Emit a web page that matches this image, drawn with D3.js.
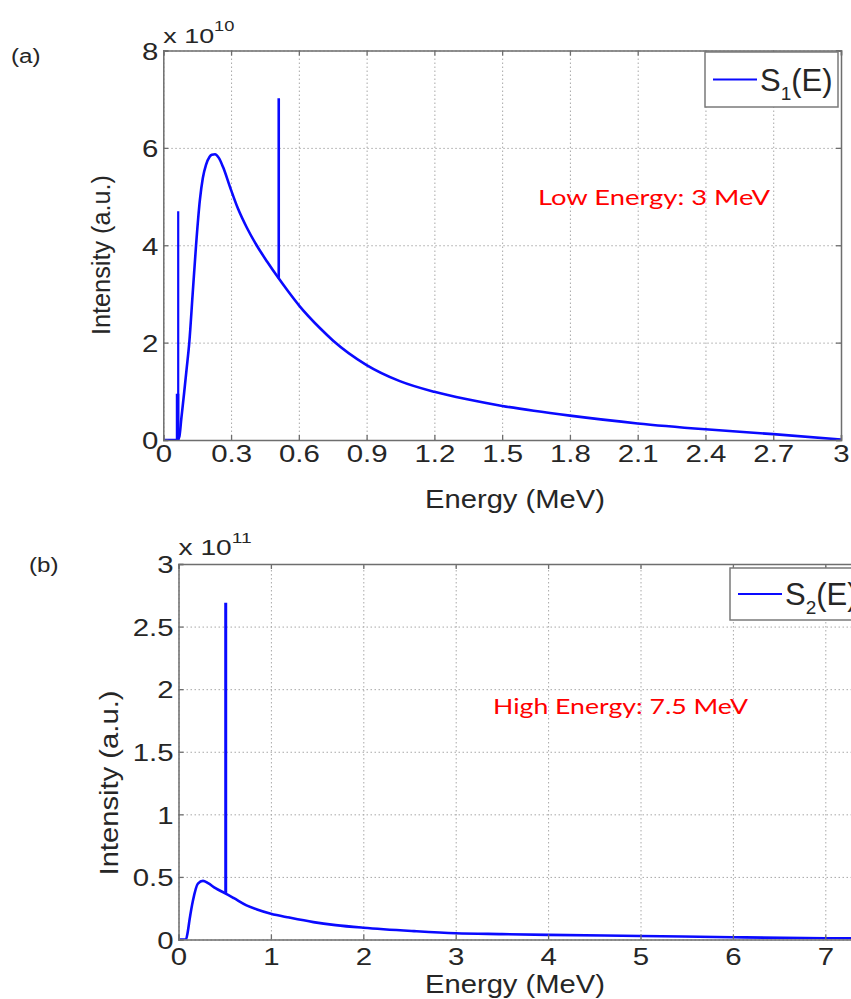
<!DOCTYPE html>
<html>
<head>
<meta charset="utf-8">
<script src="https://cdnjs.cloudflare.com/ajax/libs/d3/7.8.5/d3.min.js"></script>
<style>
  body { margin: 0; background: #fff; }
  svg text { font-family: "Liberation Sans", Arial, sans-serif; fill: #262626; }
</style>
</head>
<body>
<svg id="chart" width="851" height="999"></svg>
<script>
// ---- data ----
// (a) low energy spectrum, intensity in units of 1e10
const energyLow = [0, 0.05, 0.062, 0.071, 0.08, 0.092, 0.103, 0.115, 0.13, 0.145, 0.162, 0.175, 0.189, 0.205, 0.215,
  0.229, 0.245, 0.265, 0.295, 0.33, 0.37, 0.413, 0.46, 0.509, 0.55, 0.605, 0.693, 0.752, 0.9, 1.047, 1.2, 1.34,
  1.5, 1.64, 1.8, 2.1, 2.4, 2.7, 3.0];
const intensityLow = [0, 0, 0, 0.07, 0.45, 0.96, 1.45, 2.0, 3.0, 4.0, 4.93, 5.38, 5.65, 5.82, 5.86,
  5.87, 5.8, 5.6, 5.2, 4.76, 4.36, 4.0, 3.66, 3.33, 3.07, 2.74, 2.3, 2.04, 1.54, 1.21, 0.99, 0.84,
  0.7, 0.6, 0.5, 0.34, 0.22, 0.12, 0.01];
const spikeLowE = [0.063, 0.066, 0.511];
const spikeLowBase = [0, 0, 3.32];
const spikeLowTop = [0.95, 4.7, 7.02];
const spikeLowWidth = [3.5, 2.2, 2.6];

// (b) high energy spectrum, intensity in units of 1e11
const energyHigh = [0, 0.08, 0.1, 0.12, 0.156, 0.21, 0.265, 0.32, 0.4, 0.5, 0.6, 0.736, 0.85, 1.0, 1.2, 1.46,
  1.7, 2.0, 2.55, 3.0, 3.5, 4.0, 5.0, 6.0, 7.0, 7.5];
const intensityHigh = [0, 0, 0.06, 0.16, 0.31, 0.447, 0.468, 0.45, 0.41, 0.371, 0.33, 0.273, 0.24, 0.206, 0.175, 0.139,
  0.115, 0.094, 0.067, 0.05, 0.043, 0.037, 0.028, 0.018, 0.01, 0.008];
const spikeHighE = [0.511];
const spikeHighBase = [0.371];
const spikeHighTop = [2.69];
const spikeHighWidth = [3];

const xTicksLow = [0, 0.3, 0.6, 0.9, 1.2, 1.5, 1.8, 2.1, 2.4, 2.7, 3];
const yTicksLow = [0, 2, 4, 6, 8];
const xTicksHigh = [0, 1, 2, 3, 4, 5, 6, 7];
const yTicksHigh = [0, 0.5, 1, 1.5, 2, 2.5, 3];

const svg = d3.select("#chart");
svg.append("rect").attr("width", 851).attr("height", 999).attr("fill", "#fff");

const blue = "#0a0aff";
const axisColor = "#6e6e6e";

function drawPanel(p) {
  const x = d3.scaleLinear().domain(p.xDomain).range([p.left, p.right]);
  const y = d3.scaleLinear().domain(p.yDomain).range([p.bottom, p.top]);
  const g = svg.append("g");
  const w = p.right - p.left, h = p.bottom - p.top;

  // dotted grid
  const gx = g.append("g").attr("transform", `translate(0,${p.bottom})`)
    .call(d3.axisBottom(x).tickValues(p.xTicks).tickSize(-h).tickFormat(""));
  const gy = g.append("g").attr("transform", `translate(${p.left},0)`)
    .call(d3.axisLeft(y).tickValues(p.yTicks).tickSize(-w).tickFormat(""));
  [gx, gy].forEach(a => {
    a.select(".domain").remove();
    a.selectAll("line").attr("stroke", "#a8a8a8").attr("stroke-width", 1).attr("stroke-dasharray", "1.5,2.5");
  });

  // clip for the curve (bottom panel runs past the page edge)
  const clipId = "clip" + p.id;
  svg.append("clipPath").attr("id", clipId).append("rect")
    .attr("x", p.left).attr("y", p.top - 1).attr("width", w).attr("height", h + 1);

  const line = d3.line().x(d => x(d[0])).y(d => y(d[1])).curve(d3.curveMonotoneX);
  const pts = p.energy.map((e, i) => [e, p.intensity[i]]);
  const plot = g.append("g").attr("clip-path", `url(#${clipId})`);
  plot.append("path").datum(pts).attr("d", line)
    .attr("fill", "none").attr("stroke", blue).attr("stroke-width", 2.6).attr("stroke-linejoin", "round");
  plot.selectAll("line.spike").data(p.spikeE).join("line").attr("class", "spike")
    .attr("x1", d => x(d)).attr("x2", d => x(d))
    .attr("y1", (d, i) => y(p.spikeBase[i])).attr("y2", (d, i) => y(p.spikeTop[i]))
    .attr("stroke", blue).attr("stroke-width", (d, i) => p.spikeWidth[i]);

  // box axes with inward ticks
  const ax = [
    [d3.axisBottom(x).tickValues(p.xTicks).tickSize(-5).tickFormat(d3.format("")), `translate(0,${p.bottom})`, true],
    [d3.axisTop(x).tickValues(p.xTicks).tickSize(-5).tickFormat(""), `translate(0,${p.top})`, false],
    [d3.axisLeft(y).tickValues(p.yTicks).tickSize(-5).tickFormat(d3.format("")), `translate(${p.left},0)`, true],
    [d3.axisRight(y).tickValues(p.yTicks).tickSize(-5).tickFormat(""), `translate(${p.right},0)`, false]
  ];
  ax.forEach(([axis, tr, labels], k) => {
    const a = g.append("g").attr("transform", tr).call(axis);
    a.select(".domain").attr("stroke", axisColor).attr("stroke-width", 1.5);
    a.selectAll(".tick line").attr("stroke", axisColor).attr("stroke-width", 1.3);
    if (!labels) return;
    a.selectAll("text").attr("font-size", p.tickFont).attr("fill", "#262626")
      .attr("font-family", "Liberation Sans, Arial, sans-serif");
    if (k === 0) {
      a.selectAll("text").attr("y", null).attr("dy", null)
        .attr("transform", `translate(0,${p.xLabelOffset}) scale(${p.stretch},1)`);
    } else {
      a.selectAll("text").attr("x", null).attr("dy", "0.36em")
        .attr("transform", `translate(-5,0) scale(${p.stretch},1)`);
    }
  });

  // axis titles
  g.append("text").attr("x", p.xTitle[0]).attr("y", p.xTitle[1]).attr("text-anchor", "middle")
    .attr("font-size", p.titleFont).attr("textLength", p.xTitleLen).attr("lengthAdjust", "spacingAndGlyphs")
    .text("Energy (MeV)");
  g.append("text").attr("transform", `translate(${p.yTitle[0]},${p.yTitle[1]}) rotate(-90)`)
    .attr("text-anchor", "middle").attr("font-size", p.titleFont)
    .attr("textLength", p.yTitleLen).attr("lengthAdjust", "spacingAndGlyphs")
    .text("Intensity (a.u.)");

  // exponent
  const ex = g.append("text").attr("transform", `translate(${p.left},${p.expY}) scale(1.28,1)`)
    .attr("font-size", p.expFont);
  ex.append("tspan").text("x 10");
  ex.append("tspan").attr("font-size", p.expFont * 0.68).attr("dy", -p.expFont * 0.55).text(p.exponent);

  // panel letter
  g.append("text").attr("transform", `translate(${p.letterPos[0]},${p.letterPos[1]}) scale(1.15,1)`)
    .attr("font-size", 21).text(p.letter);

  // red annotation
  g.append("text").attr("x", p.note[0]).attr("y", p.note[1]).attr("font-size", 21)
    .style("font-family", "Lato, sans-serif").style("fill", "#ff0000")
    .attr("textLength", p.noteLen).attr("lengthAdjust", "spacingAndGlyphs").text(p.noteText);

  // legend
  const L = p.legend;
  g.append("rect").attr("x", L.x).attr("y", L.y).attr("width", L.w).attr("height", L.h)
    .attr("fill", "#fff").attr("stroke", "#7a7a7a").attr("stroke-width", 1.5);
  g.append("line").attr("x1", L.x + 8).attr("x2", L.x + 52).attr("y1", L.y + L.h / 2).attr("y2", L.y + L.h / 2)
    .attr("stroke", blue).attr("stroke-width", 2);
  const lt = g.append("text").attr("x", L.x + 55).attr("y", L.y + L.h / 2 + 11).attr("font-size", 31);
  lt.append("tspan").text("S");
  lt.append("tspan").attr("font-size", 19).attr("dy", 9).text(L.sub);
  lt.append("tspan").attr("dy", -9).text(L.tail);
}

drawPanel({
  id: "a", left: 163.3, right: 841, top: 50.5, bottom: 440,
  xDomain: [0, 3], yDomain: [0, 8], xTicks: xTicksLow, yTicks: yTicksLow,
  energy: energyLow, intensity: intensityLow,
  spikeE: spikeLowE, spikeBase: spikeLowBase, spikeTop: spikeLowTop, spikeWidth: spikeLowWidth,
  tickFont: 24.5, stretch: 1.2, xLabelOffset: 22, titleFont: 25,
  xTitle: [515, 508], xTitleLen: 180, yTitle: [110, 255], yTitleLen: 160,
  expY: 43, expFont: 21, exponent: "10", letter: "(a)", letterPos: [11, 63],
  note: [538, 205], noteLen: 232, noteText: "Low Energy: 3 MeV",
  legend: { x: 705, y: 52, w: 133, h: 55, sub: "1", tail: "(E)" }
});

drawPanel({
  id: "b", left: 178.5, right: 871.5, top: 564, bottom: 939.5,
  xDomain: [0, 7.5], yDomain: [0, 3], xTicks: xTicksHigh, yTicks: yTicksHigh,
  energy: energyHigh, intensity: intensityHigh,
  spikeE: spikeHighE, spikeBase: spikeHighBase, spikeTop: spikeHighTop, spikeWidth: spikeHighWidth,
  tickFont: 24.5, stretch: 1.2, xLabelOffset: 25, titleFont: 25,
  xTitle: [515, 993], xTitleLen: 180, yTitle: [118, 783], yTitleLen: 185,
  expY: 555, expFont: 22, exponent: "11", letter: "(b)", letterPos: [29, 572],
  note: [493, 714], noteLen: 255, noteText: "High Energy: 7.5 MeV",
  legend: { x: 730, y: 568, w: 140, h: 52, sub: "2", tail: "(E)" }
});
</script>
</body>
</html>
